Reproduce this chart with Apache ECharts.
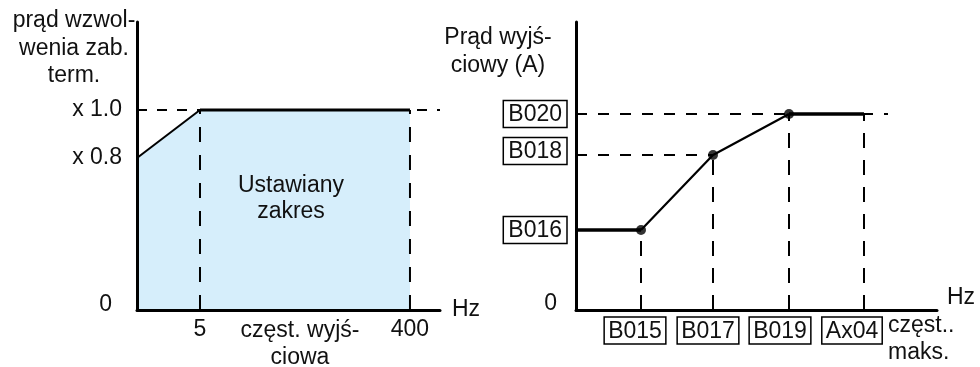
<!DOCTYPE html>
<html>
<head>
<meta charset="utf-8">
<script src="https://cdn.jsdelivr.net/npm/echarts@6/dist/echarts.min.js"></script>
<style>
html, body { margin: 0; padding: 0; background: #fff; }
#main { width: 980px; height: 367px; }
</style>
</head>
<body>
<div id="main"></div>
<script>
// left plot: allowed thermal current vs output frequency (schematic, not to scale)
var leftXMax = 14.43;
var leftXTicks = [3, 13];              // where 5 Hz and 400 Hz sit on the axis
var leftXText = ['5', '400'];
var leftYMin = 1 / 6;                  // origin, shown as "0"
var leftYMax = leftYMin + 1.2;
var leftYTicks = [leftYMin, 0.8, 1.0];
var leftYText = ['0', 'x 0.8', 'x 1.0'];
var leftCurveX = [0, 3, 13];
var leftCurveY = [0.8, 1.0, 1.0];

// right plot: output current vs max frequency (schematic)
var rightXMax = 36.1;
var rightYMax = 28.8;
var rightXTicks = [6.5, 13.7, 21.3, 28.8];
var rightXText = ['B015', 'B017', 'B019', 'Ax04'];
var rightYTicks = [0, 8.0, 15.5, 19.6];
var rightYText = ['0', 'B016', 'B018', 'B020'];
var rightCurveX = [0, 6.5, 13.7, 21.3, 28.8];
var rightCurveY = [8.0, 8.0, 15.5, 19.6, 19.6];
var rightGuideEnd = 31.2;

var FONT = '"Liberation Sans", Arial, sans-serif';
var INK = '#111';

function pts(xs, ys) {
    return xs.map(function (x, i) { return [x, ys[i]]; });
}
function pick(vals, v) {
    for (var i = 0; i < vals.length; i++) {
        if (Math.abs(vals[i] - v) < 1e-6) return i;
    }
    return -1;
}
function dashed(data, xi, dash) {
    return {
        type: 'line', xAxisIndex: xi, yAxisIndex: xi, data: data,
        symbol: 'none', silent: true,
        lineStyle: { color: '#000', width: 2, type: dash }
    };
}
function solid(data, xi, w) {
    return {
        type: 'line', xAxisIndex: xi, yAxisIndex: xi, data: data,
        symbol: 'none', silent: true,
        lineStyle: { color: '#000', width: w }
    };
}
function note(x, y, text, align, lh) {
    return {
        type: 'text', x: x, y: y, z: 100, silent: true,
        style: { text: text, font: '23px ' + FONT, fill: INK,
            textAlign: align, textVerticalAlign: 'top', lineHeight: lh }
    };
}

var boxStyle = {
    fontSize: 23, fontFamily: FONT, color: INK, lineHeight: 25,
    borderColor: '#000', borderWidth: 1.5, padding: [3, 4, 1, 4]
};
var yBoxStyle = Object.assign({}, boxStyle, { padding: [3, 5, 1, 5] });
// small shifts so the boxes sit side by side like in the drawing
var xBoxShift = [12, 10, 18, 24];

var series = [];
// left plot
series.push({
    type: 'line', xAxisIndex: 0, yAxisIndex: 0, z: 1,
    data: pts(leftCurveX, leftCurveY), symbol: 'none', silent: true,
    lineStyle: { width: 0 },
    areaStyle: { color: '#d6eefb', opacity: 1, origin: 'start' }
});
series.push(dashed([[0, leftCurveY[2]], [leftXMax, leftCurveY[2]]], 0, [10, 10]));
leftXTicks.forEach(function (x, i) {
    series.push(dashed([[x, leftYMin], [x, leftCurveY[i + 1]]], 0, [15, 13]));
});
series.push(solid(pts(leftCurveX.slice(0, 2), leftCurveY.slice(0, 2)), 0, 2));
series.push(solid(pts(leftCurveX.slice(1), leftCurveY.slice(1)), 0, 3));

// right plot
series.push(dashed([[0, rightCurveY[3]], [rightGuideEnd, rightCurveY[3]]], 1, [11, 11]));
series.push(dashed([[0, rightCurveY[2]], [rightCurveX[2], rightCurveY[2]]], 1, [11, 11]));
rightXTicks.forEach(function (x, i) {
    series.push(dashed([[x, 0], [x, rightCurveY[i + 1]]], 1, [15, 12]));
});
series.push(solid(pts(rightCurveX.slice(0, 2), rightCurveY.slice(0, 2)), 1, 3.5));
series.push(solid(pts(rightCurveX.slice(3), rightCurveY.slice(3)), 1, 3.5));
series.push(solid(pts(rightCurveX.slice(1, 4), rightCurveY.slice(1, 4)), 1, 2.2));
series.push({
    type: 'scatter', xAxisIndex: 1, yAxisIndex: 1, silent: true,
    data: pts(rightCurveX.slice(1, 4), rightCurveY.slice(1, 4)),
    symbolSize: 10, itemStyle: { color: '#000' }
});

var axisLine = { show: true, onZero: false, lineStyle: { color: '#000', width: 3 } };

var option = {
    animation: false,
    backgroundColor: '#fff',
    grid: [
        { left: 137, top: 22, width: 303, height: 288, outerBoundsMode: 'none' },
        { left: 576, top: 22, width: 361, height: 288, outerBoundsMode: 'none' }
    ],
    xAxis: [
        {
            type: 'value', gridIndex: 0, min: 0, max: leftXMax, z: 5,
            axisLine: axisLine, axisTick: { show: false }, splitLine: { show: false },
            name: 'Hz', nameLocation: 'end', nameGap: 12,
            nameTextStyle: { fontSize: 23, fontFamily: FONT, color: INK, padding: [0, 0, 6, 0] },
            axisLabel: {
                customValues: leftXTicks, margin: 8,
                fontSize: 23, fontFamily: FONT, color: INK,
                formatter: function (v) { return leftXText[pick(leftXTicks, v)] || ''; }
            }
        },
        {
            type: 'value', gridIndex: 1, min: 0, max: rightXMax, z: 5,
            axisLine: axisLine, axisTick: { show: false }, splitLine: { show: false },
            name: 'Hz', nameLocation: 'end', nameGap: 10,
            nameTextStyle: { fontSize: 23, fontFamily: FONT, color: INK,
                verticalAlign: 'bottom', lineHeight: 24 },
            axisLabel: {
                customValues: rightXTicks, margin: 8,
                formatter: function (v) {
                    var i = pick(rightXTicks, v);
                    return '{b|' + rightXText[i] + '}{s' + i + '|}';
                },
                rich: {
                    b: boxStyle,
                    s0: { width: xBoxShift[0] }, s1: { width: xBoxShift[1] },
                    s2: { width: xBoxShift[2] }, s3: { width: xBoxShift[3] }
                }
            }
        }
    ],
    yAxis: [
        {
            type: 'value', gridIndex: 0, min: leftYMin, max: leftYMax, z: 5,
            axisLine: axisLine, axisTick: { show: false }, splitLine: { show: false },
            axisLabel: {
                customValues: leftYTicks, margin: 15,
                formatter: function (v) {
                    var i = pick(leftYTicks, v);
                    return i === 0 ? '{z|' + leftYText[i] + '}' : '{t|' + leftYText[i] + '}';
                },
                rich: {
                    t: { fontSize: 23, fontFamily: FONT, color: INK },
                    z: { fontSize: 23, fontFamily: FONT, color: INK, padding: [0, 10, 10, 0] }
                }
            }
        },
        {
            type: 'value', gridIndex: 1, min: 0, max: rightYMax, z: 5,
            axisLine: axisLine, axisTick: { show: false }, splitLine: { show: false },
            axisLabel: {
                customValues: rightYTicks, margin: 9,
                formatter: function (v) {
                    var i = pick(rightYTicks, v);
                    if (i === 0) return '{z|' + rightYText[i] + '}';
                    if (i === 2) return '{b|' + rightYText[i] + '}\n{gap|}';
                    return '{b|' + rightYText[i] + '}';
                },
                rich: {
                    b: yBoxStyle,
                    gap: { height: 8, lineHeight: 8 },
                    z: { fontSize: 23, fontFamily: FONT, color: INK, padding: [0, 10, 12, 0] }
                }
            }
        }
    ],
    graphic: [
        note(74, 7, 'prąd wzwol-\nwenia zab.\nterm.', 'center', 27.5),
        note(291, 173, 'Ustawiany\nzakres', 'center', 26),
        note(300, 317, 'częst. wyjś-\nciowa', 'center', 27),
        note(498, 24, 'Prąd wyjś-\nciowy (A)', 'center', 28),
        note(888, 312, 'częst..\nmaks.', 'left', 27)
    ],
    series: series
};

var myChart = echarts.init(document.getElementById('main'));
myChart.setOption(option);
</script>
</body>
</html>
